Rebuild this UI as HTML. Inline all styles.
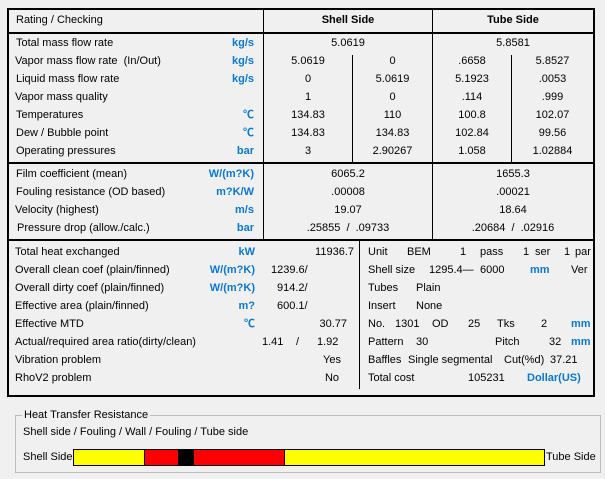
<!DOCTYPE html>
<html><head><meta charset="utf-8"><style>
body{margin:0;width:605px;height:479px;background:#f0f0f0;font-family:"Liberation Sans","Noto Sans CJK SC",sans-serif;font-size:11px;color:#000;position:relative;overflow:hidden}
div{position:absolute;white-space:nowrap}
.t{line-height:14px}
.u{color:#0a78d2;font-weight:bold;text-align:right;width:100px}
.c{text-align:center}
.r{text-align:right}
.ln{background:#000}
</style></head><body>
<!-- outer box -->
<div style="left:7px;top:8px;width:584px;height:385px;border:2px solid #000"></div>
<div class="ln" style="left:9px;top:32px;width:584px;height:2px"></div>
<div class="ln" style="left:9px;top:162px;width:584px;height:2px"></div>
<div class="ln" style="left:9px;top:239px;width:584px;height:2px"></div>
<div class="ln" style="left:263px;top:10px;width:1px;height:229px"></div>
<div class="ln" style="left:432px;top:10px;width:1px;height:229px"></div>
<div class="ln" style="left:352px;top:55px;width:1px;height:107px"></div>
<div class="ln" style="left:511px;top:55px;width:1px;height:107px"></div>
<div class="ln" style="left:359px;top:241px;width:1px;height:148px"></div>

<div class="t" style="left:16px;top:13px">Rating / Checking</div>
<div class="t c" style="left:264px;top:13px;width:168px;font-weight:bold">Shell Side</div>
<div class="t c" style="left:433px;top:13px;width:160px;font-weight:bold">Tube Side</div>

<!-- section 1 -->
<div class="t" style="left:16px;top:36px">Total mass flow rate</div><div class="t u" style="left:154px;top:36px">kg/s</div>
<div class="t" style="left:15px;top:54px">Vapor mass flow rate&nbsp; (In/Out)</div><div class="t u" style="left:154px;top:54px">kg/s</div>
<div class="t" style="left:16px;top:72px">Liquid mass flow rate</div><div class="t u" style="left:154px;top:72px">kg/s</div>
<div class="t" style="left:15px;top:90px">Vapor mass quality</div>
<div class="t" style="left:16px;top:108px">Temperatures</div><div class="t u" style="left:154px;top:108px">℃</div>
<div class="t" style="left:16px;top:126px">Dew / Bubble point</div><div class="t u" style="left:154px;top:126px">℃</div>
<div class="t" style="left:16px;top:144px">Operating pressures</div><div class="t u" style="left:154px;top:144px">bar</div>

<div class="t c" style="left:264px;top:36px;width:168px">5.0619</div>
<div class="t c" style="left:433px;top:36px;width:160px">5.8581</div>

<div class="t c" style="left:264px;top:54px;width:88px">5.0619</div><div class="t c" style="left:353px;top:54px;width:79px">0</div><div class="t c" style="left:433px;top:54px;width:78px">.6658</div><div class="t c" style="left:512px;top:54px;width:81px">5.8527</div>
<div class="t c" style="left:264px;top:72px;width:88px">0</div><div class="t c" style="left:353px;top:72px;width:79px">5.0619</div><div class="t c" style="left:433px;top:72px;width:78px">5.1923</div><div class="t c" style="left:512px;top:72px;width:81px">.0053</div>
<div class="t c" style="left:264px;top:90px;width:88px">1</div><div class="t c" style="left:353px;top:90px;width:79px">0</div><div class="t c" style="left:433px;top:90px;width:78px">.114</div><div class="t c" style="left:512px;top:90px;width:81px">.999</div>
<div class="t c" style="left:264px;top:108px;width:88px">134.83</div><div class="t c" style="left:353px;top:108px;width:79px">110</div><div class="t c" style="left:433px;top:108px;width:78px">100.8</div><div class="t c" style="left:512px;top:108px;width:81px">102.07</div>
<div class="t c" style="left:264px;top:126px;width:88px">134.83</div><div class="t c" style="left:353px;top:126px;width:79px">134.83</div><div class="t c" style="left:433px;top:126px;width:78px">102.84</div><div class="t c" style="left:512px;top:126px;width:81px">99.56</div>
<div class="t c" style="left:264px;top:144px;width:88px">3</div><div class="t c" style="left:353px;top:144px;width:79px">2.90267</div><div class="t c" style="left:433px;top:144px;width:78px">1.058</div><div class="t c" style="left:512px;top:144px;width:81px">1.02884</div>

<!-- section 2 -->
<div class="t" style="left:16px;top:167px">Film coefficient (mean)</div><div class="t u" style="left:154px;top:167px">W/(m?K)</div>
<div class="t" style="left:16px;top:185px">Fouling resistance (OD based)</div><div class="t u" style="left:154px;top:185px">m?K/W</div>
<div class="t" style="left:15px;top:203px">Velocity (highest)</div><div class="t u" style="left:154px;top:203px">m/s</div>
<div class="t" style="left:17px;top:221px">Pressure drop (allow./calc.)</div><div class="t u" style="left:154px;top:221px">bar</div>
<div class="t c" style="left:264px;top:167px;width:168px">6065.2</div><div class="t c" style="left:433px;top:167px;width:160px">1655.3</div>
<div class="t c" style="left:264px;top:185px;width:168px">.00008</div><div class="t c" style="left:433px;top:185px;width:160px">.00021</div>
<div class="t c" style="left:264px;top:203px;width:168px">19.07</div><div class="t c" style="left:433px;top:203px;width:160px">18.64</div>
<div class="t c" style="left:264px;top:221px;width:168px">.25855 &nbsp;/ &nbsp;.09733</div><div class="t c" style="left:433px;top:221px;width:160px">.20684 &nbsp;/ &nbsp;.02916</div>

<!-- section 3 left -->
<div class="t" style="left:15px;top:245px">Total heat exchanged</div><div class="t u" style="left:155px;top:245px">kW</div><div class="t r" style="left:254px;top:245px;width:100px">11936.7</div>
<div class="t" style="left:15px;top:263px">Overall clean coef (plain/finned)</div><div class="t u" style="left:155px;top:263px">W/(m?K)</div><div class="t" style="left:271px;top:263px">1239.6/</div>
<div class="t" style="left:15px;top:281px">Overall dirty coef (plain/finned)</div><div class="t u" style="left:155px;top:281px">W/(m?K)</div><div class="t" style="left:277px;top:281px">914.2/</div>
<div class="t" style="left:15px;top:299px">Effective area (plain/finned)</div><div class="t u" style="left:155px;top:299px">m?</div><div class="t" style="left:277px;top:299px">600.1/</div>
<div class="t" style="left:15px;top:317px">Effective MTD</div><div class="t u" style="left:155px;top:317px">℃</div><div class="t r" style="left:247px;top:317px;width:100px">30.77</div>
<div class="t" style="left:15px;top:335px">Actual/required area ratio(dirty/clean)</div><div class="t" style="left:262px;top:335px">1.41</div><div class="t" style="left:296px;top:335px">/</div><div class="t" style="left:317px;top:335px">1.92</div>
<div class="t" style="left:15px;top:353px">Vibration problem</div><div class="t r" style="left:241px;top:353px;width:100px">Yes</div>
<div class="t" style="left:15px;top:371px">RhoV2 problem</div><div class="t r" style="left:241px;top:371px;width:98px">No</div>

<!-- section 3 right -->
<div class="t" style="left:368px;top:245px">Unit</div><div class="t" style="left:407px;top:245px">BEM</div><div class="t" style="left:460px;top:245px">1</div><div class="t" style="left:480px;top:245px">pass</div><div class="t" style="left:523px;top:245px">1</div><div class="t" style="left:535px;top:245px">ser</div><div class="t" style="left:564px;top:245px">1</div><div class="t" style="left:575px;top:245px">par</div>
<div class="t" style="left:368px;top:263px">Shell size</div><div class="t" style="left:429px;top:263px">1295.4—</div><div class="t" style="left:480px;top:263px">6000</div><div class="t" style="left:530px;top:263px;color:#0a78d2;font-weight:bold">mm</div><div class="t" style="left:571px;top:263px">Ver</div>
<div class="t" style="left:368px;top:281px">Tubes</div><div class="t" style="left:416px;top:281px">Plain</div>
<div class="t" style="left:368px;top:299px">Insert</div><div class="t" style="left:416px;top:299px">None</div>
<div class="t" style="left:368px;top:317px">No.</div><div class="t" style="left:395px;top:317px">1301</div><div class="t" style="left:432px;top:317px">OD</div><div class="t" style="left:468px;top:317px">25</div><div class="t" style="left:497px;top:317px">Tks</div><div class="t" style="left:541px;top:317px">2</div><div class="t" style="left:571px;top:317px;color:#0a78d2;font-weight:bold">mm</div>
<div class="t" style="left:368px;top:335px">Pattern</div><div class="t" style="left:416px;top:335px">30</div><div class="t" style="left:495px;top:335px">Pitch</div><div class="t" style="left:549px;top:335px">32</div><div class="t" style="left:571px;top:335px;color:#0a78d2;font-weight:bold">mm</div>
<div class="t" style="left:368px;top:353px">Baffles</div><div class="t" style="left:408px;top:353px">Single segmental</div><div class="t" style="left:504px;top:353px">Cut(%d)</div><div class="t" style="left:550px;top:353px">37.21</div>
<div class="t" style="left:368px;top:371px">Total cost</div><div class="t" style="left:468px;top:371px">105231</div><div class="t" style="left:527px;top:371px;color:#0a78d2;font-weight:bold">Dollar(US)</div>

<!-- group box -->
<div style="left:15px;top:415px;width:584px;height:56px;border:1px solid #bcbcbc"></div>
<div class="t" style="left:22px;top:408px;background:#f0f0f0;padding:0 2px">Heat Transfer Resistance</div>
<div class="t" style="left:23px;top:425px">Shell side / Fouling / Wall / Fouling / Tube side</div>
<div class="t" style="left:23px;top:450px">Shell Side</div>
<div class="t" style="left:546px;top:450px">Tube Side</div>
<div style="left:73px;top:449px;width:470px;height:15px;border:1px solid #000;background:#ffff00"></div>
<div style="left:144px;top:450px;width:34px;height:15px;background:#ff0000;border-left:1px solid #000"></div>
<div style="left:178px;top:450px;width:16px;height:15px;background:#000"></div>
<div style="left:194px;top:450px;width:90px;height:15px;background:#ff0000;border-right:1px solid #000"></div>
</body></html>
